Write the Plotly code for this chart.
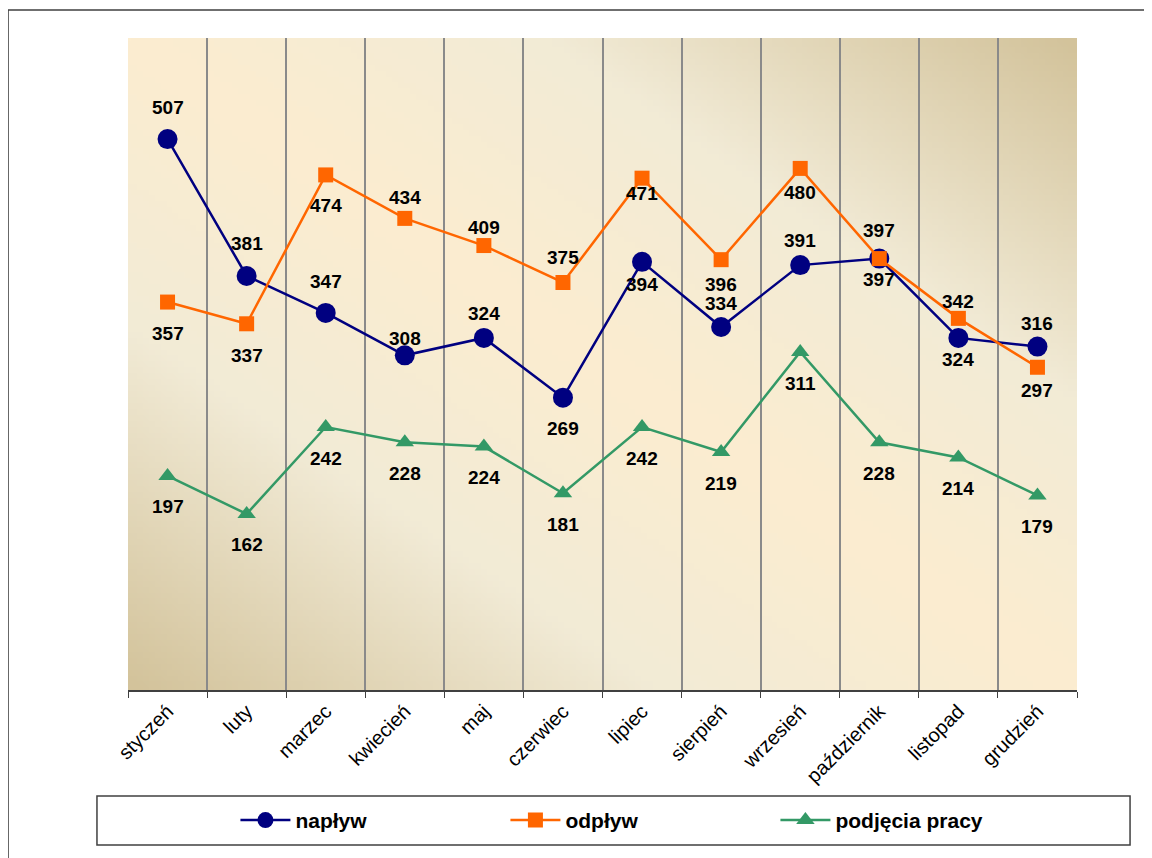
import base64
import struct
import zlib

import plotly.graph_objects as go

MONTHS = ["styczeń", "luty", "marzec", "kwiecień", "maj", "czerwiec",
          "lipiec", "sierpień", "wrzesień", "październik", "listopad", "grudzień"]
NAPLYW = [507, 381, 347, 308, 324, 269, 394, 334, 391, 397, 324, 316]
ODPLYW = [357, 337, 474, 434, 409, 375, 471, 396, 480, 397, 342, 297]
PODJECIA = [197, 162, 242, 228, 224, 181, 242, 219, 311, 228, 214, 179]

# label offsets in px (screen, + = down)
NAPLYW_SHIFT = [-32, -32, -31, -17, -24, 31, 23, -24, -25, 21, 22, -23]
ODPLYW_SHIFT = [31, 32, 31, -21, -18, -25, 15, 25, 24, -28, -17, 23]
PODJECIA_SHIFT = [31] * 12

FONT = "Arial, Liberation Sans, sans-serif"
NAVY = "#000080"
ORANGE = "#FF6600"
GREEN = "#339966"


def _gradient_png(w=160, h=110):
    stops = [(0.0, (252, 237, 208)), (0.45, (242, 235, 214)), (1.0, (211, 195, 155))]
    raw = bytearray()
    for j in range(h):
        v = j / (h - 1)
        raw.append(0)
        for i in range(w):
            u = i / (w - 1)
            d = abs(u - v)
            for (a, ca), (b, cb) in zip(stops, stops[1:]):
                if d <= b:
                    t = (d - a) / (b - a)
                    raw.extend(int(ca[k] + (cb[k] - ca[k]) * t) for k in range(3))
                    break

    def chunk(tag, data):
        c = tag + data
        return struct.pack(">I", len(data)) + c + struct.pack(">I", zlib.crc32(c) & 0xFFFFFFFF)

    png = b"\x89PNG\r\n\x1a\n"
    png += chunk(b"IHDR", struct.pack(">IIBBBBB", w, h, 8, 2, 0, 0, 0))
    png += chunk(b"IDAT", zlib.compress(bytes(raw), 9))
    png += chunk(b"IEND", b"")
    return "data:image/png;base64," + base64.b64encode(png).decode()


fig = go.Figure()
fig.add_trace(go.Scatter(x=MONTHS, y=NAPLYW, name="napływ", mode="lines+markers",
                         line={"color": NAVY, "width": 2.5},
                         marker={"symbol": "circle", "size": 20, "color": NAVY}))
fig.add_trace(go.Scatter(x=MONTHS, y=ODPLYW, name="odpływ", mode="lines+markers",
                         line={"color": ORANGE, "width": 2.5},
                         marker={"symbol": "square", "size": 15, "color": ORANGE}))
fig.add_trace(go.Scatter(x=MONTHS, y=PODJECIA, name="podjęcia pracy", mode="lines+markers",
                         line={"color": GREEN, "width": 2.5},
                         marker={"symbol": "triangle-up", "size": 16, "color": GREEN}))

for values, shifts in [(NAPLYW, NAPLYW_SHIFT), (ODPLYW, ODPLYW_SHIFT), (PODJECIA, PODJECIA_SHIFT)]:
    for month, val, sh in zip(MONTHS, values, shifts):
        fig.add_annotation(x=month, y=val, text=str(val), showarrow=False, yshift=-sh,
                           font={"size": 19, "color": "black", "family": FONT, "weight": "bold"})

# outer frame (left + top edges only, the rest runs off the page) and legend box
fig.add_shape(type="path", xref="paper", yref="paper", path="M -0.1264 -0.4 L -0.1264 1.0429 L 1.3 1.0429",
              line={"color": "#404040", "width": 1.5}, layer="below")
fig.add_shape(type="rect", xref="paper", yref="paper", x0=-0.0327, x1=1.0559, y0=-0.1626, y1=-0.2377,
              line={"color": "#404040", "width": 1.5}, fillcolor="white", layer="below")

fig.add_layout_image(source=_gradient_png(), xref="paper", yref="paper", x=0, y=1, sizex=1, sizey=1,
                     xanchor="left", yanchor="top", sizing="stretch", layer="below")

fig.update_layout(
    width=1152,
    height=858,
    margin={"l": 120, "r": 83, "t": 30, "b": 176},
    paper_bgcolor="white",
    plot_bgcolor="#F4EBD4",
    font={"family": FONT, "color": "black"},
    showlegend=True,
    legend={"orientation": "h", "x": 0.1132, "xanchor": "left", "y": -0.2, "yanchor": "middle",
            "font": {"size": 21, "family": FONT, "weight": "bold"},
            "itemwidth": 50, "entrywidth": 205, "bgcolor": "rgba(0,0,0,0)"},
)
fig.update_xaxes(type="category", range=[-0.5, 11.5], tickson="boundaries", showgrid=True,
                 gridcolor="#8a8a8a", gridwidth=1.5,
                 showline=True, linecolor="#404040", linewidth=1.5, ticks="outside", ticklen=6,
                 tickcolor="#404040", tickangle=-45, tickfont={"size": 20, "family": FONT})
fig.update_yaxes(range=[0, 600], showgrid=False, zeroline=False, showticklabels=False, showline=False)

fig.write_html("out.html")
